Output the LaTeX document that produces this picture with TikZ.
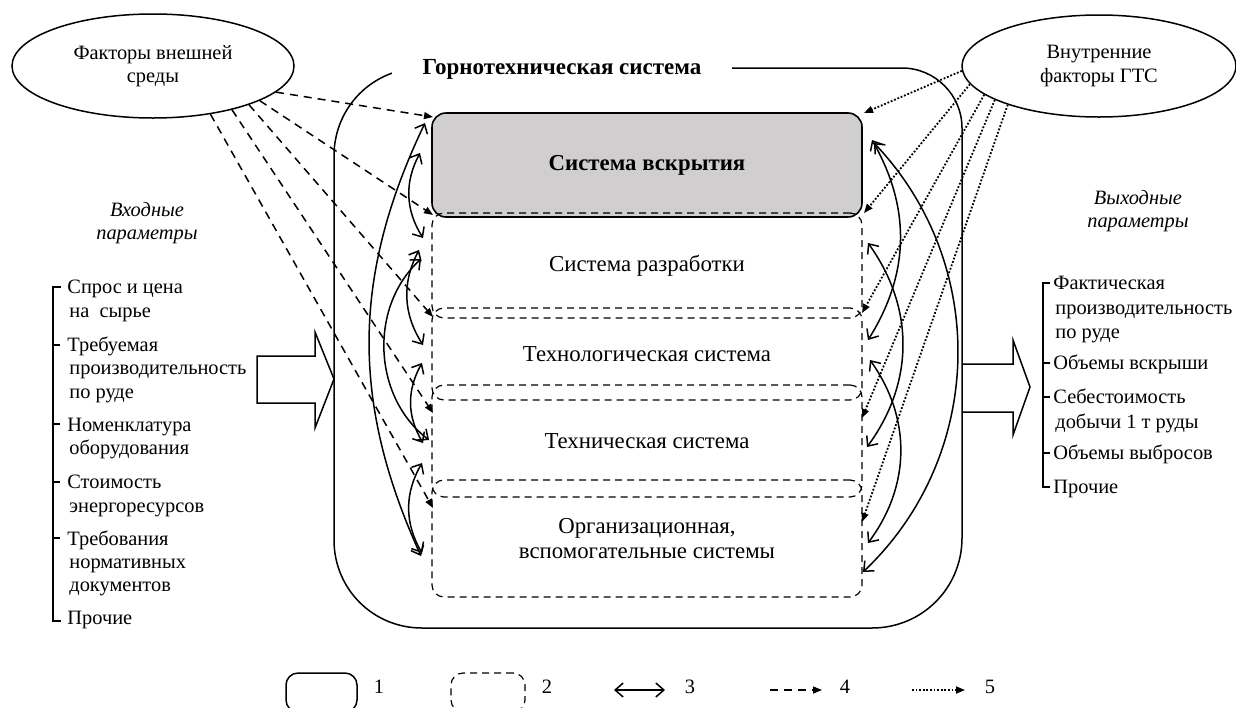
\documentclass[tikz,border=0pt]{standalone}
\usepackage{fontspec}
\setmainfont{Liberation Serif}
\usetikzlibrary{shapes.geometric,arrows.meta}
\begin{document}
\begin{tikzpicture}[x=0.5pt,y=0.5pt,
  font=\fontsize{10.2}{11.75}\selectfont,
  lw/.style={line width=0.75pt},
  sysbox/.style={draw,line width=0.8pt,rounded corners=7pt,minimum width=215pt,inner sep=0pt,align=center,font=\fontsize{11.4}{13.2}\selectfont},
  subbox/.style={draw,line width=0.6pt,dash pattern=on 3.5pt off 2.5pt,rounded corners=6pt,minimum width=215pt,inner sep=0pt,align=center,font=\fontsize{11.4}{12.5}\selectfont},
  factor/.style={draw,ellipse,line width=0.75pt,inner sep=0pt,align=center},
  ext/.style={line width=0.75pt,dash pattern=on 4pt off 3pt,-{Triangle[length=4.5pt,width=3.5pt]}},
  intr/.style={line width=0.9pt,dash pattern=on 0.9pt off 0.9pt,-{Triangle[length=4.5pt,width=3.5pt]}},
  link/.style={line width=0.75pt,{Straight Barb[length=4pt,width=7pt]}-{Straight Barb[length=4pt,width=7pt]}},
  item/.style={anchor=base west,inner sep=0pt},
  brk/.style={line width=0.6pt},
  blockarrow/.style={line width=0.75pt},
]
\useasboundingbox (0,0) rectangle (1236,-707);

% outer frame
\draw[lw] (902,-68) .. controls (935,-68) and (962,-95) .. (962,-128) -- (962,-538)
  .. controls (962,-588) and (922,-628) .. (872,-628) -- (422,-628)
  .. controls (373,-628) and (334,-589) .. (334,-540) -- (334,-156)
  .. controls (334,-107) and (373,-68) .. (422,-68) -- cycle;
\node[fill=white,inner sep=0pt,minimum width=170pt,minimum height=15pt,font=\fontsize{11.5}{13}\selectfont\bfseries] (title) at (562,-69) {Горнотехническая система};

% subsystems
\node[sysbox,fill={rgb,255:red,208;green,206;blue,206},minimum height=52pt] (b1) at (647,-165) {\bfseries Система вскрытия};
\node[subbox,minimum height=52.5pt] (b2) at (647,-265.5) {Система разработки};
\node[subbox,minimum height=46pt] (b3) at (647,-354) {Технологическая система};
\node[subbox,minimum height=56pt] (b4) at (647,-441) {Техническая система};
\node[subbox,minimum height=58.5pt] (b5) at (647,-538.5) {Организационная,\\вспомогательные системы};

% factor ellipses
\node[factor,minimum width=141pt,minimum height=52pt] (fe) at (153,-66) {Факторы внешней\\среды};
\node[factor,minimum width=137pt,minimum height=51pt] (fi) at (1099,-66) {Внутренние\\факторы ГТС};

% external factor arrows
\coordinate (eD1) at (433,-117);
\coordinate (eD2) at (433,-215);
\coordinate (eD3) at (433,-317);
\coordinate (eD4) at (433,-413);
\coordinate (eD5) at (433,-508);
\draw[ext] (fe.-12) -- (eD1);
\draw[ext] (fe.-18) -- (eD2);
\draw[ext] (fe.-22) -- (eD3);
\draw[ext] (fe.-29) -- (eD4);
\draw[ext] (fe.-40) -- (eD5);

% internal factor arrows
\coordinate (eP1) at (864,-113);
\coordinate (eP2) at (864,-213);
\coordinate (eP3) at (862,-313);
\coordinate (eP4) at (862,-418);
\coordinate (eP5) at (862,-522);
\draw[intr] (fi.182) -- (eP1);
\draw[intr] (fi.188) -- (eP2);
\draw[intr] (fi.194) -- (eP3);
\draw[intr] (fi.198) -- (eP4);
\draw[intr] (fi.203) -- (eP5);

% left links
\coordinate (la1) at (420,-153); \coordinate (lb1) at (423,-238);
\coordinate (la2) at (419,-250); \coordinate (lb2) at (423,-345);
\coordinate (la3) at (422,-363); \coordinate (lb3) at (423,-443);
\coordinate (la4) at (422,-463); \coordinate (lb4) at (422,-553);
\coordinate (la5) at (425,-123); \coordinate (lb5) at (421,-556);
\coordinate (la6) at (421,-259); \coordinate (lb6) at (429,-440);
\draw[link] (la1) to[bend right=30] (lb1);
\draw[link] (la2) to[bend right=30] (lb2);
\draw[link] (la3) to[bend right=30] (lb3);
\draw[link] (la4) to[bend right=30] (lb4);
\draw[link] (la5) to[bend right=25] (lb5);
\draw[link] (la6) to[bend right=50] (lb6);

% right links
\coordinate (ra1) at (872,-140); \coordinate (rb1) at (868,-340);
\coordinate (ra2) at (868,-243); \coordinate (rb2) at (867,-447);
\coordinate (ra3) at (870,-360); \coordinate (rb3) at (868,-543);
\coordinate (ra4) at (874,-143); \coordinate (rb4) at (863,-572);
\draw[link] (ra1) to[bend left=31] (rb1);
\draw[link] (ra2) to[bend left=36] (rb2);
\draw[link] (ra3) to[bend left=36] (rb3);
\draw[link] (ra4) to[bend left=45] (rb4);

% block arrows
\draw[blockarrow] (257,-356) -- (315,-356) -- (315,-332) -- (334,-379) -- (315,-428) -- (315,-403) -- (257,-403) -- cycle;
\draw[blockarrow] (962,-364) -- (1013,-364) -- (1013,-340) -- (1030,-387) -- (1013,-435) -- (1013,-412) -- (962,-412);

% input / output labels
\node[align=center,font=\fontsize{10.2}{11.75}\selectfont\itshape] (inlab) at (147,-223) {Входные\\параметры};
\node[align=center,font=\fontsize{10.2}{11.75}\selectfont\itshape] (outlab) at (1138,-211) {Выходные\\параметры};

% input list
\foreach \i/\x/\y/\t in {1/67/293/{Спрос и цена},2/69/317/{на~~сырье},3/67/351/{Требуемая},4/69/374/{производительность},5/69/398/{по руде},6/67/431/{Номенклатура},7/69/454/{оборудования},8/67/488/{Стоимость},9/69/512/{энергоресурсов},10/67/545/{Требования},11/69/568/{нормативных},12/69/591/{документов},13/67/624/{Прочие}}
  \node[item] (in\i) at (\x,-\y) {\t};
\draw[brk] (61,-287) -- (53,-287) -- (53,-621) -- (61,-621);
\foreach \y in {345,424,482,538} \draw[brk] (53,-\y) -- (60,-\y);

% output list
\foreach \i/\x/\y/\t in {1/1053/289/{Фактическая},2/1055/314/{производительность},3/1055/338/{по руде},4/1053/369/{Объемы вскрыши},5/1053/403/{Себестоимость},6/1055/428/{добычи 1 т руды},7/1053/459/{Объемы выбросов},8/1053/493/{Прочие}}
  \node[item] (out\i) at (\x,-\y) {\t};
\draw[brk] (1050,-283) -- (1043,-283) -- (1043,-487) -- (1050,-487);
\foreach \y in {363,397,453} \draw[brk] (1043,-\y) -- (1050,-\y);

% legend
\node[draw,line width=0.75pt,rounded corners=6pt,minimum width=35.5pt,minimum height=19.5pt,inner sep=0pt] (leg1) at (321.5,-692.5) {};
\node (n1) at (379,-687) {1};
\node[draw,line width=0.6pt,dash pattern=on 3.5pt off 2.5pt,rounded corners=6pt,minimum width=37pt,minimum height=19.5pt,inner sep=0pt] (leg2) at (488,-692.5) {};
\node (n2) at (547,-687) {2};
\coordinate (l3a) at (614,-690); \coordinate (l3b) at (665,-690);
\draw[link] (l3a) -- (l3b);
\node (n3) at (690,-687) {3};
\coordinate (l4a) at (770,-690); \coordinate (l4b) at (822,-690);
\draw[ext] (l4a) -- (l4b);
\node (n4) at (845,-687) {4};
\coordinate (l5a) at (912,-690); \coordinate (l5b) at (965,-690);
\draw[intr] (l5a) -- (l5b);
\node (n5) at (990,-687) {5};
\end{tikzpicture}
\end{document}
